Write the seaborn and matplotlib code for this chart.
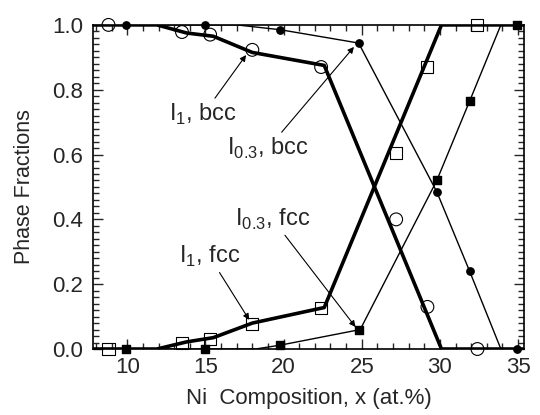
import seaborn as sns
import matplotlib.pyplot as plt
from matplotlib.ticker import MultipleLocator

# measured points (markers)
x_i1 = [8.8, 13.5, 15.3, 18.0, 22.4, 27.2, 29.2, 32.4]
bcc_i1 = [1.0, 0.978, 0.97, 0.923, 0.87, 0.40, 0.13, 0.0]
fcc_i1 = [0.0, 0.02, 0.03, 0.077, 0.127, 0.605, 0.87, 1.0]

x_i03 = [9.9, 15.0, 19.8, 24.8, 29.8, 31.9, 34.9]
bcc_i03 = [1.0, 1.0, 0.985, 0.944, 0.485, 0.24, 0.0]
fcc_i03 = [0.0, 0.0, 0.012, 0.06, 0.52, 0.765, 1.0]

# calculated curves
xc_i1 = [7.8, 11.9, 13.8, 15.5, 18.0, 22.6, 30.1, 35.4]
bcc_i1_calc = [1.0, 1.0, 0.975, 0.965, 0.915, 0.875, 0.0, 0.0]
fcc_i1_calc = [0.0, 0.0, 0.022, 0.035, 0.08, 0.128, 1.0, 1.0]

xc_i03 = [7.8, 17.0, 19.8, 24.8, 29.8, 31.9, 33.9, 35.4]
bcc_i03_calc = [1.0, 1.0, 0.985, 0.944, 0.485, 0.24, 0.0, 0.0]
xc_i03f = [7.8, 18.2, 19.8, 24.9, 29.8, 31.9, 33.9, 35.4]
fcc_i03_calc = [0.0, 0.0, 0.012, 0.06, 0.52, 0.765, 1.0, 1.0]

sns.set_style("ticks")
plt.rcParams['font.family'] = ['Liberation Sans', 'DejaVu Sans']
plt.rcParams['mathtext.fontset'] = 'custom'
plt.rcParams['mathtext.rm'] = 'Liberation Sans'

fig, ax = plt.subplots(figsize=(5.4, 4.15), dpi=100)
fig.subplots_adjust(left=0.172, right=0.971, top=0.94, bottom=0.159)

# curves
sns.lineplot(x=xc_i1, y=bcc_i1_calc, ax=ax, color='black', lw=2.6, sort=False)
sns.lineplot(x=xc_i1, y=fcc_i1_calc, ax=ax, color='black', lw=2.6, sort=False)
sns.lineplot(x=xc_i03, y=bcc_i03_calc, ax=ax, color='black', lw=1.0, sort=False)
sns.lineplot(x=xc_i03f, y=fcc_i03_calc, ax=ax, color='black', lw=1.0, sort=False)

# markers
ax.scatter(x_i1, bcc_i1, s=85, marker='o', facecolors='none', edgecolors='black', linewidths=0.8, zorder=5, clip_on=False)
ax.scatter(x_i1, fcc_i1, s=75, marker='s', facecolors='none', edgecolors='black', linewidths=0.8, zorder=5, clip_on=False)
ax.scatter(x_i03, bcc_i03, s=28, marker='o', color='black', zorder=5, clip_on=False)
ax.scatter(x_i03, fcc_i03, s=30, marker='s', color='black', zorder=5, clip_on=False)

arrow = dict(arrowstyle='-|>', color='black', lw=0.8, mutation_scale=9, shrinkA=0, shrinkB=0)
fs = 17
ax.annotate(r'I$_\mathregular{1}$, bcc', xy=(17.6, 0.907), xytext=(12.7, 0.725),
            fontsize=fs, va='center', arrowprops=arrow)
ax.annotate(r'I$_\mathregular{0.3}$, bcc', xy=(24.5, 0.932), xytext=(16.4, 0.62),
            fontsize=fs, va='center', arrowprops=arrow)
ax.annotate(r'I$_\mathregular{1}$, fcc', xy=(17.8, 0.09), xytext=(13.3, 0.285),
            fontsize=fs, va='center', arrowprops=arrow)
ax.annotate(r'I$_\mathregular{0.3}$, fcc', xy=(24.6, 0.068), xytext=(16.9, 0.40),
            fontsize=fs, va='center', arrowprops=arrow)

ax.set_xlim(7.8, 35.4)
ax.set_ylim(0, 1.0)
ax.xaxis.set_major_locator(MultipleLocator(5))
ax.xaxis.set_minor_locator(MultipleLocator(1))
ax.yaxis.set_major_locator(MultipleLocator(0.2))
ax.yaxis.set_minor_locator(MultipleLocator(0.02))
ax.set_xticks([10, 15, 20, 25, 30, 35])
ax.set_yticks([0.0, 0.2, 0.4, 0.6, 0.8, 1.0])
ax.set_yticklabels(['0.0', '0.2', '0.4', '0.6', '0.8', '1.0'])
ax.tick_params(which='both', direction='in', top=True, right=True, labelsize=16, width=1)
ax.tick_params(which='major', length=7)
ax.tick_params(which='minor', length=4)
ax.tick_params(axis='y', pad=7)
ax.tick_params(axis='x', pad=6)
for s in ax.spines.values():
    s.set_linewidth(1.2)
    s.set_color('black')

ax.set_xlabel('Ni  Composition, x (at.%)', fontsize=16, labelpad=7)
ax.set_ylabel('Phase Fractions', fontsize=15.5, labelpad=12)

plt.savefig("out.png")
plt.close()
